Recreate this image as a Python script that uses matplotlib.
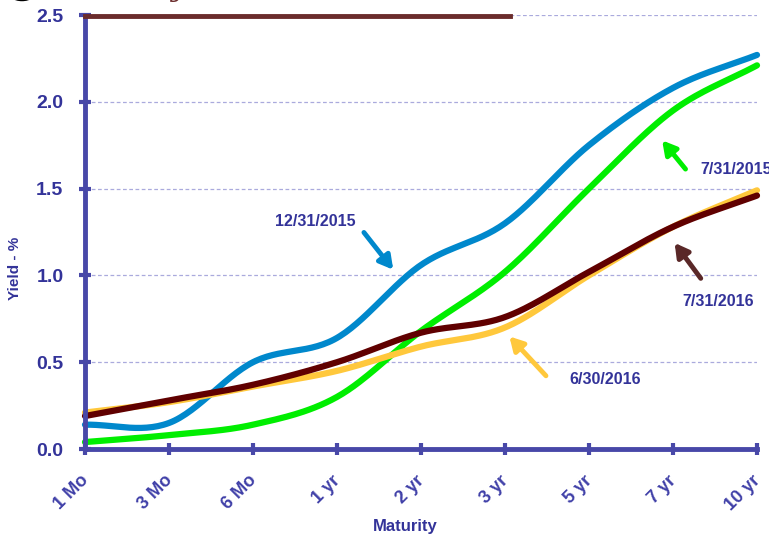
import numpy as np
import matplotlib
matplotlib.use("Agg")
import matplotlib.pyplot as plt
from matplotlib.patches import Circle
from matplotlib.transforms import ScaledTranslation

# maturities and yield curves (%)
maturities = ["1 Mo", "3 Mo", "6 Mo", "1 yr", "2 yr", "3 yr", "5 yr", "7 yr", "10 yr"]
y_dec2015 = [0.14, 0.15, 0.50, 0.64, 1.06, 1.30, 1.75, 2.08, 2.27]
y_jul2015 = [0.04, 0.08, 0.14, 0.30, 0.68, 1.02, 1.50, 1.95, 2.21]
y_jun2016 = [0.21, 0.27, 0.36, 0.45, 0.59, 0.70, 1.00, 1.28, 1.49]
y_jul2016 = [0.19, 0.28, 0.37, 0.50, 0.67, 0.76, 1.02, 1.28, 1.46]

AXIS = "#4848A8"
TEXT = "#333399"

plt.rcParams["font.family"] = ["Liberation Sans", "DejaVu Sans"]
plt.rcParams["xtick.labelsize"] = 13
plt.rcParams["ytick.labelsize"] = 14
plt.rcParams["xtick.major.pad"] = 12
plt.rcParams["ytick.major.pad"] = 11


def smooth(vals, n=30):
    """Catmull-Rom spline through the points, for the smoothed look"""
    p = np.asarray(vals, dtype=float)
    p = np.concatenate([[2 * p[0] - p[1]], p, [2 * p[-1] - p[-2]]])
    xs, ys = [], []
    for i in range(1, len(p) - 2):
        t = np.linspace(0, 1, n, endpoint=False)
        p0, p1, p2, p3 = p[i - 1], p[i], p[i + 1], p[i + 2]
        y = 0.5 * (2 * p1 + (-p0 + p2) * t + (2 * p0 - 5 * p1 + 4 * p2 - p3) * t ** 2
                   + (-p0 + 3 * p1 - 3 * p2 + p3) * t ** 3)
        xs.append(i - 1 + t)
        ys.append(y)
    xs.append([len(vals) - 1])
    ys.append([vals[-1]])
    return np.concatenate(xs), np.concatenate(ys)


fig = plt.figure(figsize=(7.69, 5.40), dpi=100)
ax = fig.add_axes([85 / 769, 91 / 540, 672 / 769, 434 / 540])

x = np.arange(len(maturities))
ax.set_xlim(0, len(maturities) - 1)
ax.set_ylim(0, 2.5)

for yv in [0.5, 1.0, 1.5, 2.0, 2.5]:
    ax.axhline(yv, color="#AAAADD", lw=0.9, ls=(0, (3, 2)), zorder=1)

curves = [
    (y_dec2015, "#0088CC"),
    (y_jul2015, "#00EE00"),
    (y_jun2016, "#FFC83C"),
    (y_jul2016, "#600000"),
]
for vals, col in curves:
    sx, sy = smooth(vals)
    ax.plot(sx, sy, color=col, lw=4.5, solid_capstyle="round", zorder=3, clip_on=False)

# annotations
def note(label, xy, xytext, txt_xy, col, ha="center"):
    ax.annotate("", xy=xy, xytext=xytext,
                arrowprops=dict(arrowstyle="-|>,head_length=0.8,head_width=0.45",
                                color=col, lw=3.5), annotation_clip=False)
    ax.text(txt_xy[0], txt_xy[1], label, color=TEXT, fontsize=11.5, fontweight="bold",
            ha=ha, va="center", clip_on=False)

note("12/31/2015", (3.69, 1.02), (3.30, 1.26), (2.74, 1.31), "#0088CC")
note("7/31/2015", (6.85, 1.79), (7.17, 1.60), (7.32, 1.61), "#00EE00", ha="left")
note("7/31/2016", (7.0, 1.20), (7.35, 0.97), (7.54, 0.85), "#5A2828")
note("6/30/2016", (5.03, 0.66), (5.51, 0.41), (6.19, 0.40), "#FFC83C")

# axes styling
for s in ["top", "right"]:
    ax.spines[s].set_visible(False)
for s in ["left", "bottom"]:
    ax.spines[s].set_color(AXIS)
    ax.spines[s].set_linewidth(3.5)
    ax.spines[s].set_zorder(4)

ax.tick_params(axis="both", direction="inout", length=9, width=3, color=AXIS)
ax.set_xticks(x)
ax.set_xticklabels(maturities, rotation=45, ha="right", rotation_mode="anchor",
                   fontsize=13, fontweight="bold", color="#4040A8")
ax.set_yticks([0, 0.5, 1.0, 1.5, 2.0, 2.5])
ax.set_yticklabels(["0.0", "0.5", "1.0", "1.5", "2.0", "2.5"],
                   fontsize=14, fontweight="bold", color=TEXT)
# nudge the slanted labels a little to the left
shift = ScaledTranslation(-5 / 100, 0, fig.dpi_scale_trans)
for lbl in ax.get_xticklabels():
    lbl.set_transform(lbl.get_transform() + shift)

ax.set_xlabel("Maturity", color=TEXT, fontsize=12, fontweight="bold")
ax.xaxis.set_label_coords(320 / 672, -70 / 434)
ax.set_ylabel("Yield - %", color=TEXT, fontsize=11, fontweight="bold")
ax.yaxis.set_label_coords(-63 / 672, 181 / 434)

# slide decoration at the top
fig.add_artist(plt.Line2D([85 / 769, 510 / 769], [1 - 16 / 540, 1 - 16 / 540],
                          color="#6B2C2C", lw=3.5, transform=fig.transFigure))
fig.add_artist(Circle((22 / 769, 1 + 10 / 540), 15 / 769, color="black",
                      transform=fig.transFigure))
fig.text(178 / 769, 1 + 12 / 540, "y", family="DejaVu Serif", style="italic",
         fontsize=20, color="#6B2C2C", ha="center", va="center")

fig.savefig("out.png", dpi=100)
